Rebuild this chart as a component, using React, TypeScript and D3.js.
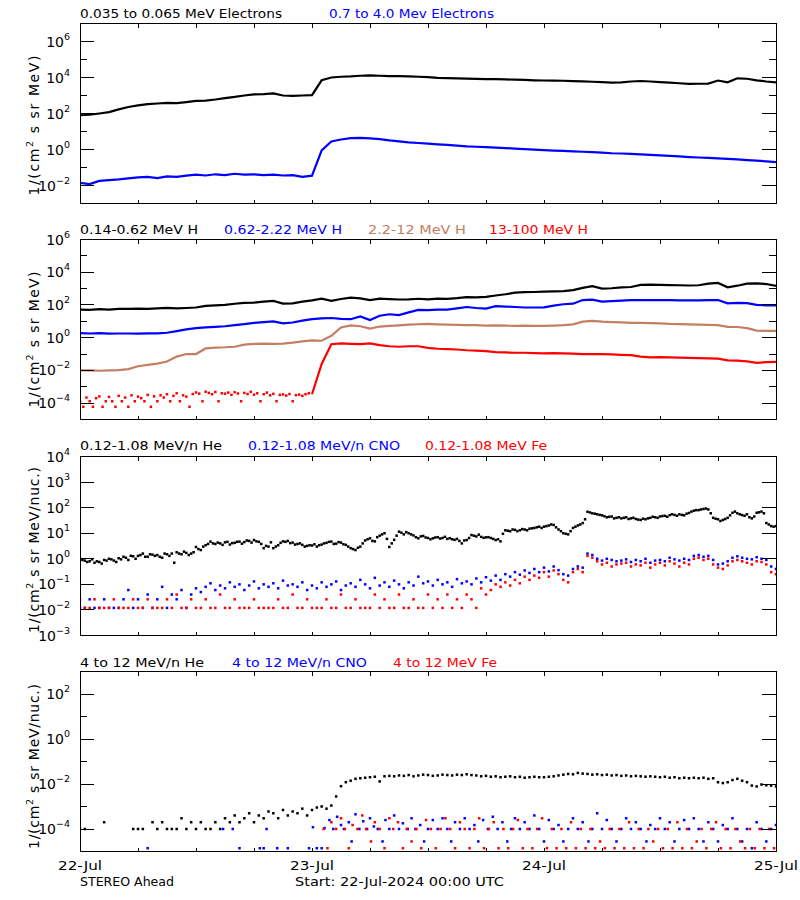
import React from "react";
import * as d3 from "d3";

// ---------- sample times (hours since 22-Jul-2024 00:00 UTC) ----------
const HOURS = d3.range(0, 73);
const HALF_HOURS = d3.range(0, 145).map((i) => i / 2);
const QUARTER_OFFSET_HOURS = d3.range(0, 144).map((i) => i / 2 + 0.25);
const THIRD_HOURS = d3.range(0, 72).map((i) => i / 3);

const DAY_LABELS = ["22-Jul", "23-Jul", "24-Jul", "25-Jul"];

// ---------- panel 1: electrons (hourly) ----------
const e1Low = [80, 85, 100, 120, 170, 230, 280, 330, 360, 390, 380, 430, 500, 520, 600, 720, 830, 1000, 1150, 1200,
  1300, 1000, 950, 1000, 1050, 7000, 10000, 11000, 11500, 12500, 13000, 12500, 12000, 11800, 11500, 11000, 10500, 9500, 9200, 9000,
  8600, 8300, 8200, 8100, 7800, 7600, 7400, 7000, 6800, 6700, 6600, 6300, 6100, 5800, 5500, 5200, 5400, 6000, 6400, 6000,
  5600, 5200, 4800, 4400, 4500, 4600, 6800, 5400, 9000, 8500, 7000, 6000, 5300];
const e1High = [0.014, 0.012, 0.018, 0.02, 0.022, 0.025, 0.028, 0.03, 0.026, 0.032, 0.03, 0.035, 0.04, 0.036, 0.042, 0.038, 0.045, 0.04, 0.042, 0.038,
  0.04, 0.036, 0.038, 0.03, 0.035, 0.9, 2.8, 3.6, 4.3, 4.4, 4.2, 3.8, 3.2, 2.8, 2.5, 2.3, 2.1, 1.95, 1.8, 1.65,
  1.5, 1.42, 1.35, 1.26, 1.2, 1.12, 1.05, 0.98, 0.92, 0.87, 0.83, 0.79, 0.75, 0.71, 0.67, 0.62, 0.6, 0.57, 0.54, 0.5,
  0.47, 0.44, 0.41, 0.38, 0.36, 0.34, 0.32, 0.3, 0.28, 0.26, 0.24, 0.22, 0.2];

// ---------- panel 2: protons (hourly) ----------
const h1 = [52, 50, 55, 52, 58, 57, 60, 58, 62, 66, 62, 65, 70, 88, 95, 100, 118, 135, 140, 160,
  175, 120, 125, 160, 190, 240, 180, 230, 280, 250, 200, 245, 230, 215, 220, 240, 220, 245, 235, 260,
  300, 290, 310, 380, 450, 560, 600, 620, 650, 680, 700, 800, 1100, 1400, 1000, 1050, 1200, 1250, 1700, 1750,
  1700, 1650, 1600, 1550, 1600, 2000, 2200, 1200, 1500, 2000, 2100, 1900, 1450];
const h2 = [1.9, 1.8, 1.9, 1.75, 1.8, 1.8, 1.75, 1.85, 1.85, 2.0, 2.5, 3.2, 3.8, 4.3, 4.6, 5.0, 5.8, 6.8, 8.0, 9.0,
  10, 7.5, 8.5, 11, 13.5, 15, 16, 14, 13.5, 20, 12, 22, 27, 24, 35, 50, 48, 52, 52, 62,
  75, 65, 60, 85, 80, 75, 70, 70, 72, 90, 110, 120, 200, 210, 160, 170, 185, 195, 200, 200,
  195, 195, 190, 190, 190, 195, 200, 125, 135, 130, 100, 95, 95];
const h3 = [0.01, 0.01, 0.0095, 0.01, 0.0105, 0.012, 0.018, 0.022, 0.026, 0.035, 0.07, 0.1, 0.1, 0.22, 0.25, 0.26, 0.28, 0.38, 0.42, 0.43,
  0.42, 0.43, 0.5, 0.6, 0.68, 0.65, 1.3, 4.2, 5.6, 5.0, 3.6, 4.8, 5.2, 5.7, 6.2, 6.6, 6.9, 6.5, 6.2, 6.0,
  5.8, 5.8, 5.5, 5.6, 5.4, 5.3, 5.4, 5.3, 5.3, 5.5, 5.8, 6.5, 9.5, 10.5, 9.5, 9.0, 8.5, 8.0, 8.0, 7.8,
  7.5, 7.0, 6.8, 6.5, 6.2, 6.0, 5.8, 4.6, 4.5, 3.8, 2.7, 2.6, 2.6];
const h4 = [null, null, null, null, null, null, null, null, null, null, null, null, null, null, null, null, null, null, null, null,
  null, null, null, null, 0.00035, 0.025, 0.4, 0.45, 0.42, 0.4, 0.45, 0.35, 0.3, 0.28, 0.3, 0.3, 0.24, 0.21, 0.2, 0.19,
  0.17, 0.16, 0.15, 0.13, 0.125, 0.12, 0.12, 0.115, 0.11, 0.115, 0.11, 0.105, 0.1, 0.1, 0.1, 0.095, 0.09, 0.085, 0.07, 0.063,
  0.065, 0.062, 0.06, 0.058, 0.057, 0.055, 0.052, 0.041, 0.04, 0.036, 0.029, 0.032, 0.033];
// 13-100 MeV H before the onset (20-minute samples, low counts)
const h4Pre = [1.3e-4, 6e-5, 2.2e-4, 1.3e-4, 6e-5, 2e-4, 2.6e-4, 6e-5, 1.3e-4, 2.4e-4, 1.3e-4, 6e-5,
  2.8e-4, 1.3e-4, 2.2e-4, 6e-5, 3e-4, 1.3e-4, 2.5e-4, 2e-4, 1.3e-4, 3.2e-4, 6e-5, 2.6e-4,
  1.3e-4, 3e-4, 2.2e-4, 3.5e-4, 1.3e-4, 2.8e-4, 4e-4, 1.3e-4, 3e-4, 2.5e-4, 6e-5, 3.6e-4,
  4.5e-4, 3.8e-4, 1.3e-4, 5e-4, 4.2e-4, 3.5e-4, 4.8e-4, 1.3e-4, 4e-4, 3.8e-4, 4.4e-4, 3.2e-4,
  4.6e-4, 3.9e-4, 1.3e-4, 4.2e-4, 3.6e-4, 4.9e-4, 3.3e-4, 4e-4, 1.3e-4, 3.5e-4, 4.4e-4, 3e-4,
  3.7e-4, 1.3e-4, 3.2e-4, 3.4e-4, 2.9e-4, 3.6e-4, 1.3e-4, 3.1e-4, 3.3e-4, 2.8e-4, 3.5e-4, 4e-4];

// ---------- panel 3: 0.12-1.08 MeV/n (half-hourly) ----------
const he3 = [1.0, 0.85, 0.8, 0.7, 0.75, 0.9, 1.0, 0.85,
  1.05, 1.2, 0.9, 1.25, 1.3, 1.6, 1.2, 1.45,
  1.4, 1.1, 1.5, 1.6, 1.8, 1.5, 1.7, 1.6,
  2.9, 2.2, 3.4, 4.7, 3.8, 4.0, 4.4, 3.6,
  4.2, 4.7, 4.5, 5.0, 5.4, 4.6, 2.6, 3.0,
  2.6, 3.4, 4.8, 5.0, 4.3, 3.8, 3.5, 3.2,
  3.3, 3.0, 3.6, 4.2, 4.7, 3.9, 4.3, 3.5,
  2.6, 2.2, 3.0, 5.2, 6.3, 4.8, 8.0, 10.0,
  2.9, 5.5, 11.5, 9.0, 10.0, 8.2, 6.3, 7.8,
  6.5, 6.3, 7.0, 6.5, 6.0, 5.8, 6.0, 4.0,
  5.4, 8.5, 7.5, 7.2, 6.9, 6.5, 5.4, 4.8,
  13, 12, 13.5, 13, 14, 15, 16, 18,
  18, 20, 21, 14, 10, 9, 16, 20,
  25, 69, 60, 55, 50, 42, 45, 40,
  38, 42, 38, 36, 33, 35, 40, 42,
  45, 48, 51, 52, 55, 50, 62, 76,
  80, 89, 85, 40, 35, 33, 40, 63,
  60, 51, 55, 38, 63, 70, 25, 19,
  19];
// same channel, samples between the half-hour marks
const he3Mid = [0.9, 0.75, 0.95, 0.8, 0.65, 0.85, 0.95, 0.75,
  0.95, 1.1, 1.3, 1.0, 1.4, 1.2, 1.5, 1.3,
  1.2, 1.6, 1.3, 0.7, 1.6, 1.9, 1.4, 1.8,
  2.4, 3.0, 3.8, 4.0, 4.3, 3.5, 4.6, 4.1,
  4.6, 3.9, 5.2, 4.3, 4.8, 3.8, 3.2, 4.4,
  3.0, 4.2, 4.6, 4.1, 3.6, 4.0, 3.0, 3.4,
  3.7, 3.4, 4.0, 4.6, 3.8, 4.5, 3.7, 3.0,
  2.4, 2.7, 4.0, 5.8, 5.0, 7.0, 9.0, 6.0,
  4.0, 8.0, 10.5, 11, 9.0, 7.0, 7.5, 6.8,
  5.8, 6.8, 6.2, 7.2, 6.4, 5.5, 5.0, 5.2,
  6.5, 8.0, 8.8, 6.6, 7.0, 6.0, 5.8, 9.5,
  12.5, 14, 12, 14.5, 13, 15.5, 17, 16,
  19, 22, 17, 12, 9.5, 12, 18, 22,
  35, 65, 58, 52, 46, 44, 38, 42,
  40, 36, 40, 34, 37, 38, 44, 40,
  47, 44, 55, 48, 52, 58, 70, 80,
  85, 92, 60, 37, 30, 36, 50, 70,
  55, 48, 42, 45, 66, 60, 22, 18];
const cno3 = [0.012, 0.012, 0.026, 0.012, 0.012, 0.026, 0.012, 0.012,
  0.012, 0.026, 0.06, 0.012, 0.026, 0.012, 0.04, 0.012,
  0.026, 0.08, 0.012, 0.04, 0.026, 0.06, 0.012, 0.04,
  0.07, 0.05, 0.08, 0.11, 0.06, 0.09, 0.07, 0.12,
  0.08, 0.1, 0.06, 0.09, 0.13, 0.07, 0.1, 0.08,
  0.11, 0.07, 0.14, 0.09, 0.1, 0.08, 0.12, 0.06,
  0.09, 0.07, 0.12, 0.08, 0.1, 0.13, 0.06, 0.09,
  0.11, 0.08, 0.15, 0.1, 0.07, 0.18, 0.09, 0.12,
  0.08, 0.14, 0.1, 0.07, 0.12, 0.09, 0.2, 0.11,
  0.13, 0.09, 0.15, 0.1, 0.12, 0.08, 0.16, 0.11,
  0.13, 0.1, 0.17, 0.12, 0.19, 0.14, 0.22, 0.15,
  0.25, 0.2, 0.3, 0.24, 0.35, 0.28, 0.4, 0.3,
  0.45, 0.32, 0.5, 0.36, 0.25, 0.22, 0.4, 0.5,
  0.45, 1.6, 1.4, 1.0, 0.85, 1.0, 0.9, 0.8,
  0.85, 0.95, 0.75, 0.9, 0.8, 1.0, 0.7, 0.85,
  0.9, 0.8, 1.1, 0.95, 0.85, 1.0, 0.9, 1.3,
  1.4, 1.2, 1.3, 0.9, 0.6, 0.65, 0.8, 1.1,
  1.25, 1.1, 1.0, 0.95, 1.15, 1.0, 0.9, 0.5,
  0.4];
const fe3 = [0.026, 0.012, 0.012, 0.026, 0.012, 0.012, 0.012, 0.026,
  0.012, 0.012, 0.012, 0.026, 0.012, 0.012, 0.026, 0.012,
  0.012, 0.012, 0.026, 0.012, 0.04, 0.012, 0.012, 0.026,
  0.012, 0.012, 0.026, 0.012, 0.012, 0.04, 0.012, 0.012,
  0.026, 0.012, 0.012, 0.012, 0.026, 0.012, 0.012, 0.012,
  0.012, 0.026, 0.012, 0.012, 0.04, 0.012, 0.012, 0.026,
  0.012, 0.012, 0.012, 0.026, 0.012, 0.012, 0.04, 0.012,
  0.012, 0.026, 0.012, 0.012, 0.012, 0.04, 0.012, 0.026,
  0.012, 0.012, 0.04, 0.012, 0.012, 0.026, 0.012, 0.012,
  0.04, 0.012, 0.026, 0.012, 0.04, 0.012, 0.026, 0.012,
  0.04, 0.026, 0.012, 0.07, 0.04, 0.06, 0.1, 0.08,
  0.12, 0.09, 0.15, 0.11, 0.2, 0.15, 0.22, 0.18,
  0.3, 0.2, 0.35, 0.25, 0.15, 0.12, 0.3, 0.4,
  0.3, 1.3, 1.1, 0.8, 0.6, 0.7, 0.5, 0.6,
  0.65, 0.7, 0.5, 0.6, 0.55, 0.7, 0.45, 0.6,
  0.7, 0.55, 0.8, 0.65, 0.5, 0.7, 0.6, 1.0,
  1.1, 0.9, 1.0, 0.6, 0.45, 0.4, 0.55, 0.8,
  0.9, 0.8, 0.7, 0.6, 0.8, 0.75, 0.6, 0.3,
  0.25];

// ---------- panel 4: 4-12 MeV/n (half-hourly He, sparse CNO / Fe) ----------
const he4 = [1e-4, 1e-4, null, null, null, 2e-4, null, null,
  null, null, null, 1e-4, 1e-4, 1e-4, null, 2e-4,
  1e-4, 2e-4, 1e-4, 1e-4, 1e-4, 3e-4, 1e-4, 2e-4,
  1e-4, 2e-4, 1e-4, 1e-4, 2e-4, 1e-4, 3e-4, 2e-4,
  4e-4, 2e-4, 3e-4, 5e-4, 2e-4, 4e-4, 3e-4, 6e-4,
  5e-4, 3e-4, 7e-4, 4e-4, 6e-4, 5e-4, 8e-4, 4e-4,
  7e-4, 9e-4, 1e-3, 8e-4, 1.1e-3, 2.8e-3, 8e-3, 0.012,
  0.014, 0.017, 0.018, 0.019, 0.02, 0.021, 0.013, 0.022,
  0.023, 0.022, 0.024, 0.023, 0.025, 0.022, 0.024, 0.026,
  0.025, 0.023, 0.024, 0.026, 0.025, 0.024, 0.026, 0.025,
  0.027, 0.025, 0.024, 0.022, 0.023, 0.021, 0.022, 0.02,
  0.021, 0.022, 0.02, 0.021, 0.019, 0.02, 0.021, 0.02,
  0.02, 0.021, 0.022, 0.024, 0.026, 0.028, 0.027, 0.031,
  0.029, 0.028, 0.026, 0.027, 0.025, 0.026, 0.024, 0.025,
  0.023, 0.024, 0.022, 0.023, 0.022, 0.021, 0.022, 0.021,
  0.02, 0.021, 0.019, 0.02, 0.018, 0.019, 0.018, 0.019,
  0.018, 0.019, 0.017, 0.018, 0.012, 0.011, 0.012, 0.015,
  0.017, 0.014, 0.012, 0.0085, 0.0078, 0.0095, 0.0088, 0.0085,
  0.0078];
const cno4 = [[7, 1.4e-5], [14.8, 1e-4], [15.8, 1e-4], [16.5, 1.4e-5], [18.6, 1.4e-5], [19, 1.4e-5], [19.3, 1e-4], [20.4, 1.4e-5], [21.5, 1.4e-5],
  [23.7, 1.4e-5], [24.1, 1.2e-4], [24.5, 1.4e-5], [25, 1.4e-5], [25.3, 1.1e-4], [25.8, 2.5e-4], [26.2, 1e-4], [26.6, 3.5e-4], [27, 1.5e-4],
  [27.3, 1e-4], [27.8, 2e-4], [28.1, 2.8e-5], [28.5, 4.5e-4], [28.9, 1e-4], [29.3, 2.2e-4], [29.7, 1e-4], [30, 3e-4], [30.4, 1.3e-4],
  [30.8, 1e-4], [31.3, 2.8e-5], [31.6, 2.5e-4], [32, 1e-4], [32.5, 4e-4], [33, 1e-4], [33.4, 1.8e-4], [33.9, 1e-4], [34.3, 3e-4],
  [34.7, 1e-4], [35.2, 1.5e-4], [35.6, 2.8e-5], [36, 1e-4], [36.5, 2.5e-4], [37, 1e-4], [37.5, 3e-4], [38, 1e-4], [38.4, 2.8e-5],
  [38.8, 2e-4], [39.3, 1e-4], [39.8, 3e-4], [40.3, 1e-4], [40.8, 1.5e-4], [41.2, 2.8e-5], [41.7, 2.5e-4], [42.2, 1e-4], [42.7, 3.5e-4],
  [43.2, 1e-4], [43.7, 2e-4], [44.2, 2.8e-5], [44.6, 1e-4], [45, 3e-4], [45.5, 1e-4], [46, 2e-4], [46.5, 1e-4], [47, 4e-4],
  [47.5, 1e-4], [48, 2.8e-5], [48.5, 2.5e-4], [49, 1e-4], [49.5, 1.5e-4], [50, 2.8e-5], [50.5, 1e-4], [51, 3e-4], [51.5, 1e-4],
  [52, 2e-4], [52.6, 2.8e-5], [53, 1e-4], [53.5, 5e-4], [54, 1e-4], [54.5, 2.5e-4], [55, 1e-4], [55.5, 2.8e-5], [56, 1e-4],
  [56.5, 3e-4], [57, 1e-4], [57.5, 2e-4], [58, 1e-4], [58.6, 2.8e-5], [59, 1.5e-4], [59.5, 1e-4], [60, 3e-4], [60.5, 1e-4],
  [61, 2e-4], [61.5, 2.8e-5], [62, 1e-4], [62.5, 2.5e-4], [63, 1e-4], [63.5, 3e-4], [64, 1e-4], [64.5, 2.8e-5], [65, 2e-4],
  [65.5, 1e-4], [66, 2.8e-5], [66.5, 1.5e-4], [67, 1e-4], [67.5, 3e-4], [68, 1e-4], [68.5, 2.8e-5], [69, 1e-4], [69.5, 1.4e-5],
  [70, 2e-4], [70.5, 1e-4], [71, 2.8e-5], [71.5, 1e-4], [72, 1.5e-4]];
const fe4 = [[25.2, 1e-4], [25.6, 1.4e-5], [26, 2e-4], [26.5, 1e-4], [27, 3e-4], [27.4, 1e-4], [27.8, 1.4e-5], [28.2, 1.5e-4], [28.7, 1e-4],
  [29.2, 4e-4], [29.6, 1e-4], [30.1, 2.8e-5], [30.5, 2e-4], [31, 1e-4], [31.5, 1.4e-5], [32, 3e-4], [32.4, 1e-4], [32.9, 2e-4],
  [33.4, 1.4e-5], [33.8, 1e-4], [34.3, 2.8e-5], [34.8, 1e-4], [35.3, 1.4e-5], [35.8, 2.5e-4], [36.3, 1e-4], [36.8, 1.4e-5], [37.3, 1e-4],
  [37.8, 3e-4], [38.3, 1e-4], [38.8, 1.4e-5], [39.3, 2e-4], [39.8, 1e-4], [40.3, 1.4e-5], [40.8, 1e-4], [41.3, 3e-4], [41.8, 1.4e-5],
  [42.3, 1e-4], [42.8, 2e-4], [43.3, 1.4e-5], [43.8, 1e-4], [44.3, 1.4e-5], [44.8, 1e-4], [45.3, 2.5e-4], [45.8, 1.4e-5], [46.3, 1e-4],
  [46.8, 1.4e-5], [47.3, 1e-4], [47.8, 3e-4], [48.3, 1.4e-5], [48.8, 1e-4], [49.3, 1.4e-5], [49.8, 1e-4], [50.3, 1.4e-5], [50.8, 2e-4],
  [51.3, 1.4e-5], [51.8, 1e-4], [52.3, 1.4e-5], [52.8, 1e-4], [53.3, 1.4e-5], [53.8, 2.8e-5], [54.3, 1.4e-5], [54.8, 1e-4], [55.3, 1.4e-5],
  [55.8, 1e-4], [56.3, 1.4e-5], [56.8, 2e-4], [57.3, 1.4e-5], [57.8, 1e-4], [58.3, 1.4e-5], [58.8, 1e-4], [59.3, 2.8e-5], [59.8, 1e-4],
  [60.3, 1.4e-5], [60.8, 1e-4], [61.3, 1.4e-5], [61.8, 2e-4], [62.3, 1.4e-5], [62.8, 1e-4], [63.3, 1.4e-5], [63.8, 2.8e-5], [64.3, 1e-4],
  [64.8, 1.4e-5], [65.3, 1e-4], [65.8, 2e-4], [66.3, 1.4e-5], [66.8, 1e-4], [67.3, 1.4e-5], [67.8, 1e-4], [68.3, 2.8e-5], [68.8, 1.4e-5],
  [69.3, 1e-4], [69.8, 1.4e-5], [70.3, 1e-4], [70.8, 1.4e-5], [71.3, 1e-4], [71.8, 1.4e-5]];

// ---------- text ----------
const TITLES_1 = ["0.035 to 0.065 MeV Electrons", "0.7 to 4.0 Mev Electrons"];
const TITLES_2 = ["0.14-0.62 MeV H", "0.62-2.22 MeV H", "2.2-12 MeV H", "13-100 MeV H"];
const TITLES_3 = ["0.12-1.08 MeV/n He", "0.12-1.08 MeV/n CNO", "0.12-1.08 MeV Fe"];
const TITLES_4 = ["4 to 12 MeV/n He", "4 to 12 MeV/n CNO", "4 to 12 MeV Fe"];
const FOOT_LEFT = "STEREO Ahead";
const FOOT_MID = "Start: 22-Jul-2024 00:00 UTC";

// ---------- styling / layout ----------
const BLACK = "#000000";
const BLUE = "#0000ff";
const BROWN = "#c47e62";
const RED = "#ff0000";
const FONT = "'DejaVu Sans', 'Liberation Sans', sans-serif";
const PX0 = 80;
const PX1 = 776;
const X = d3.scaleLinear().domain([0, 72]).range([PX0, PX1]);

type Title = { text: string; x: number; w: number; color: string };
type Series = { kind: "line" | "dots"; t: number[]; v: (number | null)[]; color: string };

function zipT(pairs: number[][]) { return pairs.map((p) => p[0]); }
function zipV(pairs: number[][]) { return pairs.map((p) => p[1]); }

function Panel(props: {
  id: string; top: number; bottom: number; lo: number; hi: number; labelAll: boolean;
  unit: string; ylabelLen: number; ylabelShift: number; titleY: number;
  titles: Title[]; series: Series[];
}) {
  const { id, top, bottom, lo, hi, labelAll, unit, ylabelLen, ylabelShift, titleY, titles, series } = props;
  const y = d3.scaleLog().domain([Math.pow(10, lo), Math.pow(10, hi)]).range([bottom, top]);
  const exps = d3.range(lo, hi + 1);
  const xticks = d3.range(6, 72, 6);
  const mid = (top + bottom) / 2 + ylabelShift;
  return (
    <g>
      <defs>
        <clipPath id={id}>
          <rect x={PX0} y={top} width={PX1 - PX0} height={bottom - top} />
        </clipPath>
      </defs>
      {titles.map((t, i) => (
        <text key={i} x={t.x} y={titleY} fill={t.color} fontSize={13} fontFamily={FONT}
          textLength={t.w} lengthAdjust="spacingAndGlyphs">{t.text}</text>
      ))}
      <g clipPath={`url(#${id})`}>
        {series.map((s, i) => {
          if (s.kind === "line") {
            const pts = s.t.map((t, j) => [t, s.v[j]] as [number, number | null]);
            const line = d3.line<[number, number | null]>()
              .defined((d) => d[1] != null)
              .x((d) => X(d[0]))
              .y((d) => y(d[1] as number));
            return <path key={i} d={line(pts) || ""} fill="none" stroke={s.color} strokeWidth={2.2} strokeLinejoin="miter" />;
          }
          return (
            <g key={i} fill={s.color}>
              {s.t.map((t, j) => s.v[j] == null ? null : (
                <rect key={j} x={X(t) - 1.25} y={y(s.v[j] as number) - 1.25} width={2.5} height={2.5} />
              ))}
            </g>
          );
        })}
      </g>
      <g stroke={BLACK} strokeWidth={1} shapeRendering="crispEdges">
        <rect x={PX0} y={top} width={PX1 - PX0} height={bottom - top} fill="none" />
        {exps.filter((e) => e !== lo && e !== hi).map((e) => {
          const major = labelAll || Math.abs(e % 2) === 0;
          const len = major ? 14 : 7;
          const yy = y(Math.pow(10, e));
          return (
            <g key={e}>
              <line x1={PX0} x2={PX0 + len} y1={yy} y2={yy} />
              <line x1={PX1 - len} x2={PX1} y1={yy} y2={yy} />
            </g>
          );
        })}
        {xticks.map((h) => (
          <g key={h}>
            <line x1={X(h)} x2={X(h)} y1={top} y2={top + 4} />
            <line x1={X(h)} x2={X(h)} y1={bottom - 4} y2={bottom} />
          </g>
        ))}
      </g>
      {exps.filter((e) => labelAll || Math.abs(e % 2) === 0).map((e) => (
        <text key={e} x={70} y={y(Math.pow(10, e)) + 5} textAnchor="end" fontSize={14} fontFamily={FONT} fill={BLACK}>
          <tspan>10</tspan>
          <tspan dy={-7} fontSize={9.5}>{e < 0 ? "\u2212" + Math.abs(e) : String(e)}</tspan>
        </text>
      ))}
      <text transform={`translate(39,${mid}) rotate(-90)`} textAnchor="middle" fontSize={14} fontFamily={FONT} fill={BLACK}
        textLength={ylabelLen} lengthAdjust="spacing">
        <tspan>1/(cm</tspan>
        <tspan dy={-6} fontSize={9.5}>2</tspan>
        <tspan dy={6}>{" s sr " + unit + ")"}</tspan>
      </text>
    </g>
  );
}

export default function App() {
  const s1: Series[] = [
    { kind: "line", t: HOURS, v: e1Low, color: BLACK },
    { kind: "line", t: HOURS, v: e1High, color: BLUE },
  ];
  const s2: Series[] = [
    { kind: "line", t: HOURS, v: h1, color: BLACK },
    { kind: "line", t: HOURS, v: h2, color: BLUE },
    { kind: "line", t: HOURS, v: h3, color: BROWN },
    { kind: "dots", t: THIRD_HOURS, v: h4Pre, color: RED },
    { kind: "line", t: HOURS, v: h4, color: RED },
  ];
  const s3: Series[] = [
    { kind: "dots", t: HALF_HOURS, v: he3, color: BLACK },
    { kind: "dots", t: QUARTER_OFFSET_HOURS, v: he3Mid, color: BLACK },
    { kind: "dots", t: HALF_HOURS, v: cno3, color: BLUE },
    { kind: "dots", t: HALF_HOURS, v: fe3, color: RED },
  ];
  const s4: Series[] = [
    { kind: "dots", t: HALF_HOURS, v: he4, color: BLACK },
    { kind: "dots", t: zipT(cno4), v: zipV(cno4), color: BLUE },
    { kind: "dots", t: zipT(fe4), v: zipV(fe4), color: RED },
  ];
  const t1: Title[] = [
    { text: TITLES_1[0], x: 80, w: 202, color: BLACK },
    { text: TITLES_1[1], x: 329, w: 165, color: BLUE },
  ];
  const t2: Title[] = [
    { text: TITLES_2[0], x: 80, w: 118, color: BLACK },
    { text: TITLES_2[1], x: 224, w: 118, color: BLUE },
    { text: TITLES_2[2], x: 368, w: 98, color: BROWN },
    { text: TITLES_2[3], x: 489, w: 99, color: RED },
  ];
  const t3: Title[] = [
    { text: TITLES_3[0], x: 80, w: 142, color: BLACK },
    { text: TITLES_3[1], x: 248, w: 152, color: BLUE },
    { text: TITLES_3[2], x: 425, w: 122, color: RED },
  ];
  const t4: Title[] = [
    { text: TITLES_4[0], x: 80, w: 124, color: BLACK },
    { text: TITLES_4[1], x: 232, w: 135, color: BLUE },
    { text: TITLES_4[2], x: 393, w: 104, color: RED },
  ];
  return (
    <svg width={800} height={900} style={{ position: "absolute", left: 0, top: 0, background: "#ffffff" }}>
      <rect x={0} y={0} width={800} height={900} fill="#ffffff" />
      <Panel id="c1" top={23.5} bottom={203.5} lo={-3} hi={7} labelAll={false} unit="MeV" ylabelLen={140} ylabelShift={12}
        titleY={18} titles={t1} series={s1} />
      <Panel id="c2" top={239.5} bottom={419.5} lo={-5} hi={6} labelAll={false} unit="MeV" ylabelLen={136} ylabelShift={10}
        titleY={234} titles={t2} series={s2} />
      <Panel id="c3" top={456.5} bottom={635.5} lo={-3} hi={4} labelAll={true} unit="MeV/nuc." ylabelLen={166} ylabelShift={4}
        titleY={450} titles={t3} series={s3} />
      <Panel id="c4" top={671.5} bottom={851.5} lo={-5} hi={3} labelAll={false} unit="MeV/nuc." ylabelLen={165} ylabelShift={5}
        titleY={666.5} titles={t4} series={s4} />
      {DAY_LABELS.map((d, i) => (
        <text key={d} x={X(i * 24)} y={870} textAnchor="middle" fontSize={13} fontFamily={FONT} fill={BLACK}
          textLength={44} lengthAdjust="spacingAndGlyphs">{d}</text>
      ))}
      <text x={80} y={886} fontSize={13} fontFamily={FONT} fill={BLACK} textLength={94} lengthAdjust="spacingAndGlyphs">{FOOT_LEFT}</text>
      <text x={295} y={886} fontSize={13} fontFamily={FONT} fill={BLACK} textLength={209} lengthAdjust="spacingAndGlyphs">{FOOT_MID}</text>
    </svg>
  );
}
